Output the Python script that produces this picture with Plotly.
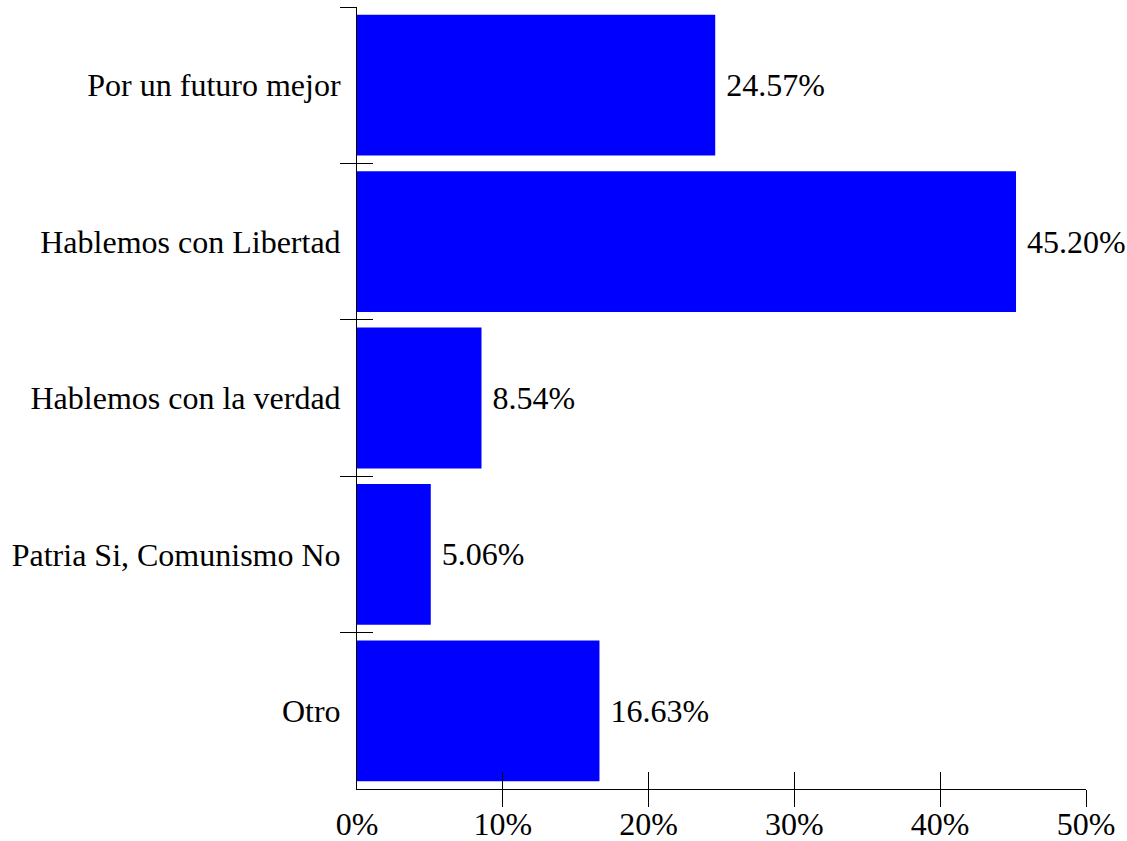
import plotly.graph_objects as go

categories = ["Por un futuro mejor", "Hablemos con Libertad", "Hablemos con la verdad",
              "Patria Si, Comunismo No", "Otro"]
values = [24.57, 45.20, 8.54, 5.06, 16.63]
x_ticks = [0, 10, 20, 30, 40, 50]
x_ticklabels = [f"{v}%" for v in x_ticks]

FONT = "Liberation Serif, Times New Roman, serif"
FS = 32
n = len(categories)
boundaries = [i - 0.5 for i in range(n)]
yrange = [n - 0.5, -0.5]
xrange = [0, 50]

fig = go.Figure()
fig.add_trace(go.Bar(
    y=categories, x=values, orientation="h",
    marker=dict(color="#0000FF", line=dict(width=0)),
    texttemplate=" %{x:.2f}%", textposition="outside",
    textfont=dict(family=FONT, size=FS, color="black"),
    cliponaxis=False, showlegend=False,
))
# dummy traces for tick-only overlay axes
for xa, ya in [("x", "y2"), ("x", "y3"), ("x2", "y"), ("x3", "y")]:
    fig.add_trace(go.Scatter(x=[None], y=[None], xaxis=xa, yaxis=ya,
                             showlegend=False, hoverinfo="skip"))

common = dict(showgrid=False, zeroline=False, automargin=False)
fig.update_layout(
    width=1127, height=841,
    margin=dict(l=357, r=41, t=7, b=52, autoexpand=False),
    plot_bgcolor="white", paper_bgcolor="white",
    bargap=0.1,
    font=dict(family=FONT, size=FS, color="black"),
    xaxis=dict(range=xrange, tickmode="array", tickvals=x_ticks, ticktext=x_ticklabels,
               ticks="outside", ticklen=7, tickcolor="rgba(0,0,0,0)", showline=True,
               linecolor="black", linewidth=1, **common),
    yaxis=dict(type="category", categoryarray=categories, range=yrange,
               ticks="outside", ticklen=9, tickcolor="rgba(0,0,0,0)",
               showline=True, linecolor="black", linewidth=1, **common),
    xaxis2=dict(overlaying="x", anchor="y", side="bottom", range=xrange,
                tickvals=x_ticks[1:], ticks="outside", ticklen=17,
                tickcolor="black", tickwidth=1, showticklabels=False,
                showline=False, **common),
    xaxis3=dict(overlaying="x", anchor="y", side="bottom", range=xrange,
                tickvals=x_ticks[1:], ticks="inside", ticklen=17,
                tickcolor="black", tickwidth=1, showticklabels=False,
                showline=False, **common),
    yaxis2=dict(overlaying="y", anchor="x", side="left", range=yrange,
                tickvals=boundaries, ticks="outside", ticklen=16,
                tickcolor="black", tickwidth=1, showticklabels=False,
                showline=False, **common),
    yaxis3=dict(overlaying="y", anchor="x", side="left", range=yrange,
                tickvals=boundaries, ticks="inside", ticklen=16,
                tickcolor="black", tickwidth=1, showticklabels=False,
                showline=False, **common),
)

fig.write_html("out.html", config={"displayModeBar": False},
               post_script="document.body.style.margin='0';document.body.style.overflow='hidden';")
